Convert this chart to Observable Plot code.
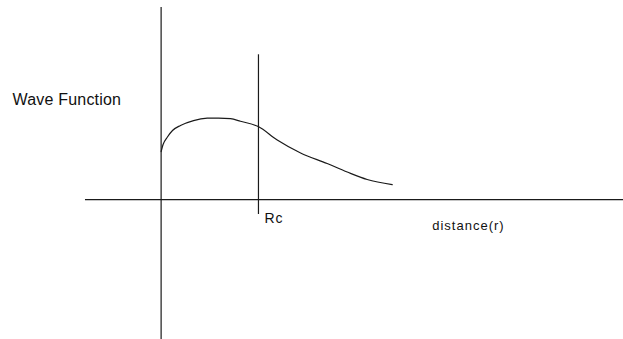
<!DOCTYPE html>
<html>
<head>
<meta charset="utf-8">
<script src="https://cdn.jsdelivr.net/npm/d3@7"></script>
<script src="https://cdn.jsdelivr.net/npm/@observablehq/plot@0.6"></script>
<style>
  html, body { margin: 0; padding: 0; background: #fff; }
  #chart svg { display: block; }
</style>
</head>
<body>
<div id="chart"></div>
<script>
// Wave function curve, in (distance, amplitude) units; Rc = 1
const curveR   = [0.00, 0.02, 0.063, 0.117, 0.199, 0.333, 0.474, 0.590, 0.713, 0.815, 0.998, 1.193, 1.433, 1.706, 1.912, 2.117, 2.374];
const curveVal = [0.593, 0.680, 0.770, 0.853, 0.915, 0.976, 1.005, 1.007, 1.000, 0.968, 0.902, 0.735, 0.575, 0.445, 0.340, 0.248, 0.185];

// Axis lines
const rc = 1;
const yAxisTop = 2.373, yAxisBottom = -1.73;
const rcTop = 1.789, rcBottom = -0.185;
const xAxisLeft = -0.777, xAxisRight = 4.75;

// Labels
const labelText = ["Wave Function", "Rc", "distance(r)"];
const labelX    = [-1.527, 1.062, 2.785];
const labelY    = [1.174, -0.284, -0.371];
const labelSize = [16, 14, 13];
const labelSpacing = [0.2, 1, 1];

const curve = curveR.map((r, i) => ({r, v: curveVal[i]}));
const labels = labelText.map((t, i) => ({t, x: labelX[i], y: labelY[i], s: labelSize[i], ls: labelSpacing[i]}));

const ink = "#1a1a1a";

const plot = Plot.plot({
  width: 623,
  height: 339,
  margin: 0,
  x: {domain: [-1.65, 4.75], axis: null},
  y: {domain: [-1.73, 2.46], axis: null},
  style: {background: "#fff", fontFamily: "Arial, 'Liberation Sans', sans-serif"},
  marks: [
    Plot.ruleY([0], {x1: xAxisLeft, x2: xAxisRight, stroke: ink, strokeWidth: 1.2}),
    Plot.ruleX([0], {y1: yAxisTop, y2: yAxisBottom, stroke: ink, strokeWidth: 1.2}),
    Plot.ruleX([rc], {y1: rcTop, y2: rcBottom, stroke: ink, strokeWidth: 1.2}),
    Plot.line(curve, {x: "r", y: "v", curve: "monotone-x", stroke: ink, strokeWidth: 1.2}),
    ...labels.map(d => Plot.text([d], {
      x: "x", y: "y", text: "t",
      textAnchor: "start", lineAnchor: "bottom",
      fontSize: d.s, fill: "#111"
    }))
  ]
});

// letter spacing per label
const texts = plot.querySelectorAll("text");
texts.forEach(el => {
  const d = labels.find(l => l.t === el.textContent);
  if (d) el.setAttribute("letter-spacing", d.ls);
});

document.getElementById("chart").appendChild(plot);
</script>
</body>
</html>
